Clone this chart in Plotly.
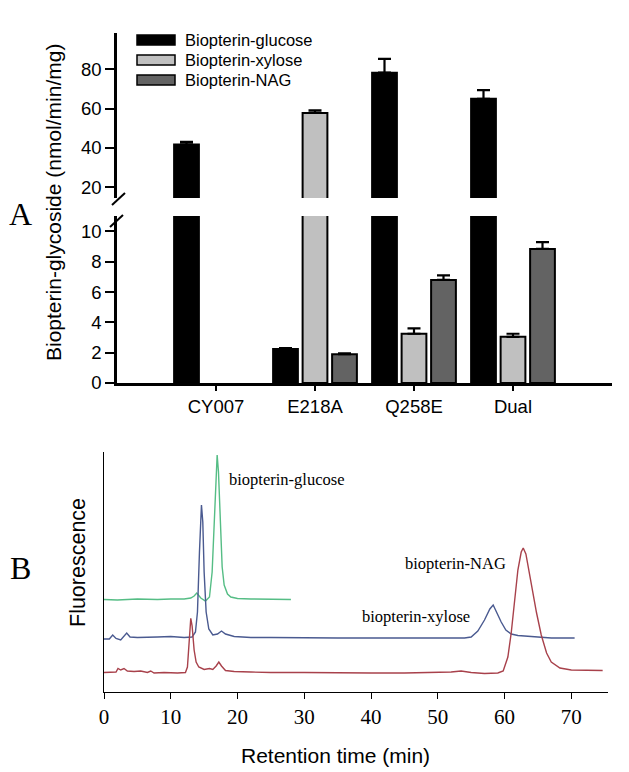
import plotly.graph_objects as go

W, H = 629, 772
OFF = 8  # page body margin of the browser

# ---------------- Panel A data ----------------
categories = ["CY007", "E218A", "Q258E", "Dual"]
series_names = ["Biopterin-glucose", "Biopterin-xylose", "Biopterin-NAG"]
glucose = [41.8, 2.25, 78.3, 65.0]
glucose_err = [1.3, 0.05, 7.0, 4.4]
xylose = [0, 57.8, 3.25, 3.05]
xylose_err = [0, 1.3, 0.35, 0.2]
nag = [0, 1.9, 6.8, 8.85]
nag_err = [0, 0.05, 0.3, 0.45]
bar_colors = ["#000000", "#c0c0c0", "#636363"]
upper_ticks = [20, 40, 60, 80]
lower_ticks = [0, 2, 4, 6, 8, 10]

# ---------------- Panel B data ----------------
green_t = [0, 2, 5, 8, 10, 12, 13, 13.5, 13.9, 14.5, 15.2, 15.8, 16.2, 16.5, 16.8, 16.95,
           17.15, 17.4, 17.7, 18, 18.5, 19, 20, 22, 25, 28]
green_y = [92.5, 92, 93, 92.5, 93, 93, 94, 96, 99, 94, 91, 95, 120, 170, 225, 237,
           220, 170, 125, 107, 98, 95, 93.5, 93, 92.5, 92.5]

blue_t = [0, 0.8, 1.3, 1.8, 2.5, 3.0, 3.4, 3.9, 5, 8, 10, 12, 13.2, 13.7, 14.0, 14.3, 14.5,
          14.6, 14.8, 15.0, 15.3, 15.7, 16.3, 17.0, 17.6, 18.2, 19.5, 22, 25, 30, 35, 40,
          45, 50, 54, 55, 56, 57, 57.8, 58.3, 58.8, 59.5, 60.2, 61, 62, 63.5, 65, 67, 70.5]
blue_y = [53, 53, 57, 53.5, 52, 56, 59, 55, 54.5, 55, 55.5, 54.5, 55, 60, 80, 140, 180,
          187, 170, 120, 80, 63, 57, 58, 61, 58, 55.5, 54.5, 54.5, 54, 54, 54,
          54, 54, 54, 55, 61, 72, 83, 87, 80, 70, 62, 58, 56.5, 56, 55, 54, 54]

red_t = [0, 1.0, 1.8, 2.1, 2.5, 3.0, 3.5, 4.5, 5.5, 6.5, 7, 7.5, 9, 11, 12.2, 12.5, 12.8,
         13.0, 13.2, 13.5, 13.8, 14.2, 15.0, 15.8, 16.3, 16.8, 17.2, 17.6, 18.2, 19.5, 22,
         25, 30, 35, 40, 45, 50, 52, 53.5, 55, 57, 59, 59.8, 60.5, 61, 61.5, 62, 62.5, 62.8,
         63.2, 63.8, 64.3, 64.8, 65.5, 66.3, 67, 68.3, 70, 72, 74.7]
red_y = [19.5, 19.5, 20, 23.5, 22, 23.5, 21, 20.5, 21, 19.5, 21, 19, 19.5, 19, 19.5, 25, 55,
         73.7, 66, 42, 30, 25, 22.5, 23.5, 22.5, 26, 30, 26, 21.5, 20.5, 20,
         19.5, 19.5, 19, 19, 19, 19.5, 20, 21, 19.5, 18.5, 19, 21, 35, 59, 90, 122, 140, 144,
         138, 115, 95, 79, 57, 39, 30, 24, 22, 21.5, 21.5]
trace_colors = ["#55bd85", "#4a5a90", "#a8414b"]
b_xticks = [0, 10, 20, 30, 40, 50, 60, 70]
peak_labels = ["biopterin-glucose", "biopterin-xylose", "biopterin-NAG"]

SANS = "Liberation Sans, Arial, sans-serif"
SERIF = "Liberation Serif, Times New Roman, serif"


def px_x(p):
    return (p - OFF) / W


def px_y(p):
    return 1 - (p - OFF) / H


fig = go.Figure()

values = [glucose, xylose, nag]
errors = [glucose_err, xylose_err, nag_err]
for i, name in enumerate(series_names):
    vals = [v if v != 0 else None for v in values[i]]
    for ax_y in ("y", "y2"):
        fig.add_trace(go.Bar(
            x=categories, y=vals, name=name, showlegend=False,
            xaxis="x", yaxis=ax_y,
            marker=dict(color=bar_colors[i], line=dict(color="#000000", width=2)),
            error_y=dict(type="data", array=errors[i], arrayminus=[0] * 4, symmetric=False,
                         color="#000000", thickness=2.2, width=6.5),
            hoverinfo="skip",
        ))

for t, y, c in ((green_t, green_y, trace_colors[0]), (blue_t, blue_y, trace_colors[1]),
                (red_t, red_y, trace_colors[2])):
    fig.add_trace(go.Scatter(x=t, y=y, mode="lines", xaxis="x3", yaxis="y3",
                             line=dict(color=c, width=1.4), showlegend=False, hoverinfo="skip"))

A_x0, A_x1 = px_x(117), px_x(612)
fig.update_layout(
    width=W, height=H, autosize=False,
    margin=dict(l=0, r=0, t=0, b=0, autoexpand=False),
    paper_bgcolor="white", plot_bgcolor="white",
    barmode="group", bargap=0.106, bargroupgap=0.16,
    showlegend=False,
    xaxis=dict(domain=[A_x0, A_x1], anchor="y2", type="category", range=[-1, 4],
               automargin=False,
               showline=True, linecolor="#000", linewidth=2.5, ticks="outside", ticklen=5,
               tickwidth=2, tickcolor="#000", showgrid=False, zeroline=False,
               tickfont=dict(family=SANS, size=18.5, color="#000")),
    yaxis=dict(domain=[px_y(198), px_y(33)], anchor="x", range=[14.5, 98.5],
               automargin=False,
               tickvals=upper_ticks, showline=True, linecolor="#000", linewidth=2.5,
               ticks="outside", ticklen=9, tickwidth=2, tickcolor="#000", showgrid=False,
               zeroline=False, tickfont=dict(family=SANS, size=18.5, color="#000")),
    yaxis2=dict(domain=[px_y(383), px_y(216)], anchor="x", range=[0, 11.02],
                automargin=False,
                tickvals=lower_ticks, showline=True, linecolor="#000", linewidth=2.5,
                ticks="outside", ticklen=9, tickwidth=2, tickcolor="#000", showgrid=False,
                zeroline=False, tickfont=dict(family=SANS, size=18.5, color="#000")),
    xaxis3=dict(domain=[px_x(104), px_x(608)], anchor="y3", range=[0, 75.5],
                automargin=False,
                tickvals=b_xticks, showline=True, linecolor="#000", linewidth=1.2,
                ticks="outside", ticklen=6, tickwidth=1.2, tickcolor="#000", showgrid=False,
                zeroline=False, tickfont=dict(family=SERIF, size=21, color="#000")),
    yaxis3=dict(domain=[px_y(692), px_y(452)], anchor="x3", range=[0, 240],
                automargin=False,
                showline=True, linecolor="#000", linewidth=1.2, showticklabels=False,
                ticks="", showgrid=False, zeroline=False),
)

# axis break marks
for (x0, y0, x1, y1) in ((112, 205, 125, 193), (110, 227, 123, 215)):
    fig.add_shape(type="line", xref="paper", yref="paper",
                  x0=px_x(x0), y0=px_y(y0), x1=px_x(x1), y1=px_y(y1),
                  line=dict(color="#000", width=2))

# legend (wide keys as in the original)
for i, name in enumerate(series_names):
    cy = 40 + i * 20
    fig.add_shape(type="rect", xref="paper", yref="paper",
                  x0=px_x(137), x1=px_x(175), y0=px_y(cy + 5), y1=px_y(cy - 5),
                  fillcolor=bar_colors[i], line=dict(color="#000", width=1.5))
    fig.add_annotation(xref="paper", yref="paper", showarrow=False, text=name,
                       x=px_x(183), y=px_y(cy), xanchor="left", yanchor="middle",
                       font=dict(family=SANS, size=16.5, color="#000"))

ann = [
    dict(text="Biopterin-glycoside (nmol/min/mg)", x=px_x(53), y=px_y(203), textangle=-90,
         font=dict(family=SANS, size=21, color="#000")),
    dict(text="A", x=px_x(21), y=px_y(214), font=dict(family=SERIF, size=32, color="#000")),
    dict(text="B", x=px_x(21), y=px_y(568), font=dict(family=SERIF, size=32, color="#000")),
    dict(text="Fluorescence", x=px_x(78), y=px_y(563), textangle=-90,
         font=dict(family=SANS, size=21.5, color="#000")),
    dict(text="Retention time (min)", x=px_x(335), y=px_y(755),
         font=dict(family=SANS, size=21, color="#000")),
    dict(text=peak_labels[0], x=px_x(286), y=px_y(480),
         font=dict(family=SERIF, size=16.5, color="#000")),
    dict(text=peak_labels[1], x=px_x(416), y=px_y(616),
         font=dict(family=SERIF, size=16.5, color="#000")),
    dict(text=peak_labels[2], x=px_x(456), y=px_y(563),
         font=dict(family=SERIF, size=16.5, color="#000")),
]
for a in ann:
    fig.add_annotation(xref="paper", yref="paper", showarrow=False,
                       xanchor="center", yanchor="middle", **a)

fig.write_html("out.html")
